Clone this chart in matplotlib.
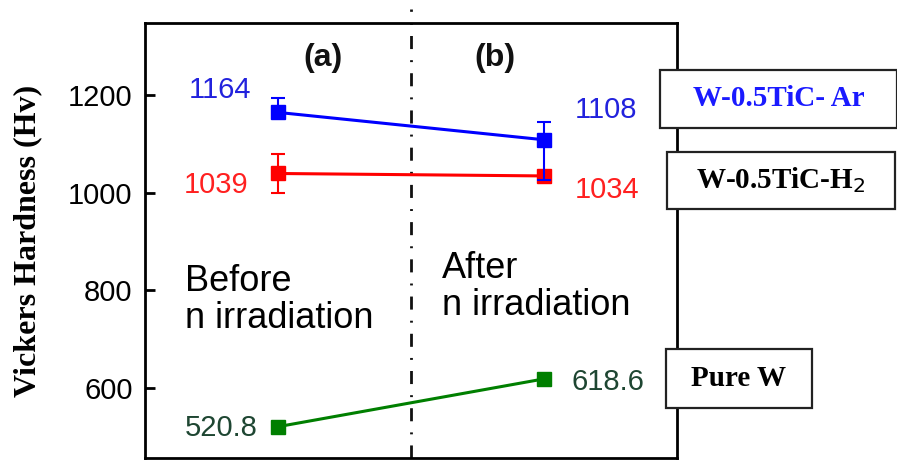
import numpy as np
import matplotlib
matplotlib.use("Agg")
import matplotlib.pyplot as plt
from matplotlib.patches import Rectangle

# Vickers hardness before (a) and after (b) neutron irradiation
stages = [0, 1]
ar_hv = [1164, 1108]
h2_hv = [1039, 1034]
pure_w_hv = [520.8, 618.6]
ar_err = [[12, 82], [30, 37]]     # lower, upper
h2_err = [[40, 0], [40, 0]]
ar_labels = ["1164", "1108"]
h2_labels = ["1039", "1034"]
w_labels = ["520.8", "618.6"]
yticks = [600, 800, 1000, 1200]

sans = ["Liberation Sans", "DejaVu Sans"]
serif = ["Liberation Serif", "DejaVu Serif"]

fig = plt.figure(figsize=(8.97, 4.61), dpi=100)
ax = fig.add_axes([145 / 897, 1 - 458 / 461, 532 / 897, 435 / 461])

# series
ax.errorbar(stages, ar_hv, yerr=ar_err, color="#0000ff", lw=2.2, marker="s",
            ms=10, capsize=5, elinewidth=1.5, capthick=1.5, zorder=4)
ax.errorbar(stages, h2_hv, yerr=h2_err, color="#ff0000", lw=2.2, marker="s",
            ms=10, capsize=5, elinewidth=1.5, capthick=1.5, zorder=3)
ax.plot(stages, pure_w_hv, color="#007f00", lw=2.2, marker="s", ms=10, zorder=3)

# divider between before / after
ax.axvline(0.5, ymin=0, ymax=1.032, color="#111111", lw=2, clip_on=False,
           linestyle=(0, (4.7, 4, 0.7, 4)), zorder=2)

ax.set_xlim(-0.5, 1.5)
ax.set_ylim(456.7, 1347)
ax.set_xticks([])
ax.set_yticks(yticks)
ax.set_yticklabels([str(t) for t in yticks], fontfamily=sans, fontsize=21)
ax.tick_params(axis="y", direction="in", length=7, width=2, pad=9)
for s in ax.spines.values():
    s.set_linewidth(2)

ax.set_ylabel("Vickers Hardness (Hv)", fontfamily=serif, fontweight="bold",
              fontsize=23)
ax.yaxis.set_label_coords(-0.194, 0.5)

# value labels
ax.text(-0.1, 1210, ar_labels[0], color="#2222dd", fontsize=21, fontfamily=sans,
        ha="right", va="center")
ax.text(-0.113, 1016, h2_labels[0], color="#ff2020", fontsize=21, fontfamily=sans,
        ha="right", va="center")
ax.text(-0.075, 518, w_labels[0], color="#1e4632", fontsize=21, fontfamily=sans,
        ha="right", va="center")
ax.text(1.117, 1169, ar_labels[1], color="#2222dd", fontsize=21, fontfamily=sans,
        ha="left", va="center")
ax.text(1.117, 1005, h2_labels[1], color="#ff2020", fontsize=21, fontfamily=sans,
        ha="left", va="center")
ax.text(1.105, 612, w_labels[1], color="#1e4632", fontsize=21, fontfamily=sans,
        ha="left", va="center")

ax.text(0.169, 1276, "(a)", fontsize=23, fontweight="bold", fontfamily=sans,
        ha="center", va="center", color="#111111")
ax.text(0.816, 1276, "(b)", fontsize=23, fontweight="bold", fontfamily=sans,
        ha="center", va="center", color="#111111")

ax.text(-0.35, 780, "Before\nn irradiation", fontsize=26, fontfamily=sans,
        ha="left", va="center", linespacing=1.05)
ax.text(0.617, 807, "After\nn irradiation", fontsize=26, fontfamily=sans,
        ha="left", va="center", linespacing=1.05)

# boxed series names to the right (pixel boxes)
boxes = [
    ((660, 70, 897, 128), "W-0.5TiC- Ar", "#1a1aff"),
    ((667, 152, 895, 209), "W-0.5TiC-H$_2$", "black"),
    ((666, 349, 812, 408), "Pure W", "black"),
]
W, H = 897, 461
for (x0, y0, x1, y1), label, col in boxes:
    rect = Rectangle((x0 / W, 1 - y1 / H), (x1 - x0) / W, (y1 - y0) / H,
                     transform=fig.transFigure, facecolor="white",
                     edgecolor="#222222", lw=1.6, zorder=5)
    fig.add_artist(rect)
    fig.text((x0 + x1) / 2 / W, 1 - (y0 + y1) / 2 / H, label, color=col,
             fontfamily=serif, fontweight="bold", fontsize=21,
             ha="center", va="center", zorder=6)

fig.savefig("out.png", dpi=100)
